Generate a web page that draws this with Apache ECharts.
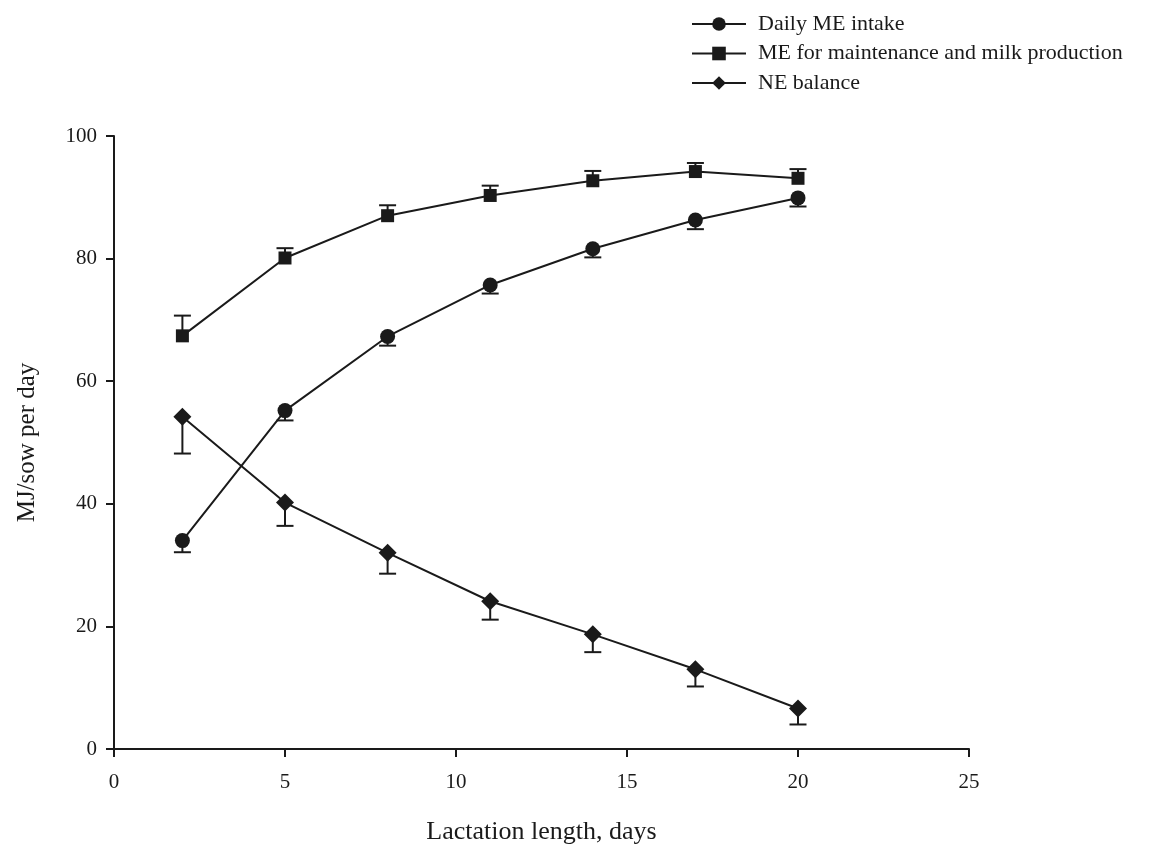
<!DOCTYPE html>
<html>
<head>
<meta charset="utf-8">
<script src="https://cdn.jsdelivr.net/npm/echarts@6/dist/echarts.min.js"></script>
<style>
  html, body { margin: 0; padding: 0; background: #fff; }
  #chart { width: 1150px; height: 850px; }
</style>
</head>
<body>
<div id="chart"></div>
<script>
// lactation day of each measurement
var days = [2, 5, 8, 11, 14, 17, 20];

// Daily ME intake, SE drawn below the point
var meIntake = [34.0, 55.2, 67.3, 75.7, 81.6, 86.3, 89.9];
var meIntakeErr = [1.9, 1.6, 1.5, 1.4, 1.4, 1.5, 1.4];

// ME for maintenance and milk production, SE drawn above
var meMaint = [67.4, 80.1, 87.0, 90.3, 92.7, 94.2, 93.1];
var meMaintErr = [3.3, 1.6, 1.7, 1.6, 1.6, 1.4, 1.5];

// NE balance, SE drawn below
var neBalance = [54.2, 40.2, 32.0, 24.1, 18.7, 13.0, 6.6];
var neBalanceErr = [6.0, 3.8, 3.4, 3.0, 2.9, 2.8, 2.6];

var xTicks = [0, 5, 10, 15, 20, 25];
var yTicks = [0, 20, 40, 60, 80, 100];

var serif = "Liberation Serif";
var ink = "#1a1a1a";

function pairs(ys) {
    return days.map(function (d, i) { return [d, ys[i]]; });
}

// [x, y, end of error bar]
function errData(ys, errs, dir) {
    return days.map(function (d, i) { return [d, ys[i], ys[i] + dir * errs[i]]; });
}

function renderErr(params, api) {
    var p0 = api.coord([api.value(0), api.value(1)]);
    var p1 = api.coord([api.value(0), api.value(2)]);
    var half = 8.5;
    var st = { stroke: ink, lineWidth: 2 };
    return {
        type: 'group',
        children: [
            { type: 'line', shape: { x1: p0[0], y1: p0[1], x2: p1[0], y2: p1[1] }, style: st },
            { type: 'line', shape: { x1: p1[0] - half, y1: p1[1], x2: p1[0] + half, y2: p1[1] }, style: st }
        ]
    };
}

function lineSeries(name, ys, symbol, size) {
    return {
        name: name,
        type: 'line',
        data: pairs(ys),
        symbol: symbol,
        symbolSize: size,
        showAllSymbol: true,
        z: 3,
        lineStyle: { color: ink, width: 2 },
        itemStyle: { color: ink, borderWidth: 0 },
        emphasis: { disabled: true }
    };
}

function errSeries(ys, errs, dir) {
    return {
        type: 'custom',
        renderItem: renderErr,
        data: errData(ys, errs, dir),
        encode: { x: 0, y: [1, 2] },
        z: 2,
        silent: true
    };
}

var chart = echarts.init(document.getElementById('chart'), null, { renderer: 'canvas' });

var option = {
    animation: false,
    backgroundColor: '#fff',
    textStyle: { fontFamily: serif, color: ink },
    grid: { left: 114, right: 181, top: 136, bottom: 99 },
    legend: {
        orient: 'vertical',
        left: 686,
        top: 8,
        itemWidth: 54,
        itemHeight: 17,
        itemGap: 7.5,
        textStyle: { fontFamily: serif, fontSize: 22, color: ink, padding: [0, 0, 0, 7] },
        data: ['Daily ME intake', 'ME for maintenance and milk production', 'NE balance']
    },
    xAxis: {
        type: 'value',
        min: 0,
        max: 25,
        interval: 5,
        name: 'Lactation length, days',
        nameLocation: 'middle',
        nameGap: 70,
        nameTextStyle: { fontFamily: serif, fontSize: 26, color: ink },
        axisLine: { show: true, onZero: false, lineStyle: { color: ink, width: 2 } },
        axisTick: { show: true, length: 8, lineStyle: { color: ink, width: 2 } },
        axisLabel: { fontFamily: serif, fontSize: 21, color: ink, margin: 23,
            customValues: xTicks },
        splitLine: { show: false }
    },
    yAxis: {
        type: 'value',
        min: 0,
        max: 100,
        interval: 20,
        name: 'MJ/sow per day',
        nameLocation: 'middle',
        nameGap: 74,
        nameTextStyle: { fontFamily: serif, fontSize: 25, color: ink },
        axisLine: { show: true, onZero: false, lineStyle: { color: ink, width: 2 } },
        axisTick: { show: true, length: 8, lineStyle: { color: ink, width: 2 } },
        axisLabel: { fontFamily: serif, fontSize: 21, color: ink, margin: 17,
            customValues: yTicks },
        splitLine: { show: false }
    },
    series: [
        errSeries(meIntake, meIntakeErr, -1),
        errSeries(meMaint, meMaintErr, 1),
        errSeries(neBalance, neBalanceErr, -1),
        lineSeries('Daily ME intake', meIntake, 'circle', 15),
        lineSeries('ME for maintenance and milk production', meMaint, 'rect', 13),
        lineSeries('NE balance', neBalance, 'diamond', 18)
    ]
};

chart.setOption(option);
</script>
</body>
</html>
